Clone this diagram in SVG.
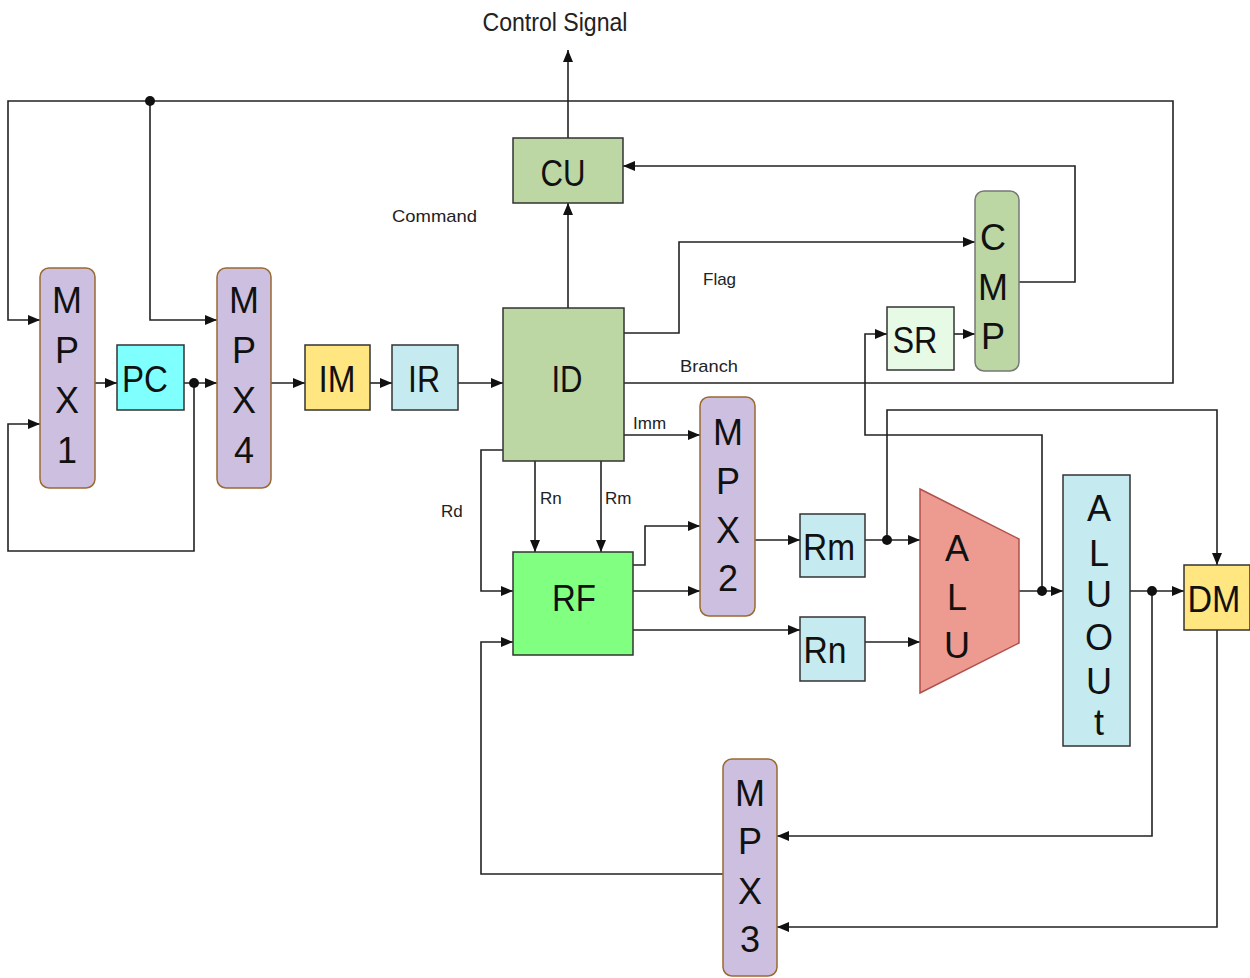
<svg xmlns="http://www.w3.org/2000/svg" width="1250" height="978" viewBox="0 0 1250 978">
<defs>
<marker id="arr" markerUnits="userSpaceOnUse" markerWidth="12" markerHeight="10" refX="12" refY="5" orient="auto">
<path d="M0,0 L12,5 L0,10 z" fill="#111"/>
</marker>
<style>
.w{fill:none;stroke:#222;stroke-width:1.6}
.a{marker-end:url(#arr)}
.box{stroke:#333;stroke-width:1.5}
.mpx{fill:#CDBFE0;stroke:#9A6A30;stroke-width:1.5}
.t{font-family:"Liberation Sans",Arial,sans-serif;font-size:37px;fill:#111;text-anchor:middle;dominant-baseline:central}
.v{font-family:"Liberation Sans",Arial,sans-serif;font-size:36px;fill:#111;text-anchor:middle;dominant-baseline:central}
.l{font-family:"Liberation Sans",Arial,sans-serif;font-size:17px;fill:#222}
.dot{fill:#111}
</style>
</defs>
<rect width="1250" height="978" fill="#fff"/>
<g id="connectors">
<path class="w a" d="M624,383 H1173 V101 H8 V320 H40"/>
<path class="w a" d="M150,101 V320 H217"/>
<path class="w a" d="M95,383 H117"/>
<path class="w a" d="M184,383 H217"/>
<path class="w a" d="M194,383 V551 H8 V424 H40"/>
<path class="w a" d="M271,383 H305"/>
<path class="w a" d="M370,383 H392"/>
<path class="w a" d="M458,383 H503"/>
<path class="w a" d="M568,308 V203"/>
<path class="w a" d="M568,138 V50"/>
<path class="w a" d="M1019,282 H1075 V166 H623"/>
<path class="w a" d="M624,333 H679 V242 H975"/>
<path class="w a" d="M954,334 H975"/>
<path class="w a" d="M1042,591 V435 H865 V334 H887"/>
<path class="w a" d="M887,540 V410 H1217 V565"/>
<path class="w a" d="M865,540 H920"/>
<path class="w a" d="M865,642 H920"/>
<path class="w a" d="M1019,591 H1063"/>
<path class="w a" d="M1130,591 H1184"/>
<path class="w a" d="M1152,591 V836 H777"/>
<path class="w a" d="M1217,630 V927 H777"/>
<path class="w a" d="M723,874 H481 V642 H513"/>
<path class="w a" d="M503,450 H481 V591 H513"/>
<path class="w a" d="M535,461 V552"/>
<path class="w a" d="M601,461 V552"/>
<path class="w a" d="M624,435 H700"/>
<path class="w a" d="M633,565 H645 V526 H700"/>
<path class="w a" d="M633,591 H700"/>
<path class="w a" d="M633,630 H800"/>
<path class="w a" d="M755,540 H800"/>
<circle class="dot" cx="150" cy="101" r="5"/>
<circle class="dot" cx="194" cy="383" r="5"/>
<circle class="dot" cx="887" cy="540" r="5"/>
<circle class="dot" cx="1042" cy="591" r="5"/>
<circle class="dot" cx="1152" cy="591" r="5"/>
</g>
<g id="labels">
<text x="555" y="31" font-family="Liberation Sans,Arial,sans-serif" font-size="25" fill="#222" text-anchor="middle" textLength="145" lengthAdjust="spacingAndGlyphs">Control Signal</text>
<text class="l" x="392" y="222" textLength="85" lengthAdjust="spacingAndGlyphs">Command</text>
<text class="l" x="703" y="285">Flag</text>
<text class="l" x="680" y="372" textLength="58" lengthAdjust="spacingAndGlyphs">Branch</text>
<text class="l" x="633" y="429">Imm</text>
<text class="l" x="441" y="517">Rd</text>
<text class="l" x="540" y="504">Rn</text>
<text class="l" x="605" y="504">Rm</text>
</g>
<g id="MPX1"><rect class="mpx" x="40" y="268" width="55" height="220" rx="9"/>
<text class="v" x="67" y="300">M</text><text class="v" x="67" y="350">P</text><text class="v" x="67" y="400">X</text><text class="v" x="67" y="450">1</text></g>
<g id="PC"><rect class="box" x="117" y="345" width="67" height="65" fill="#80FFFF"/><text class="t" x="145" y="379" textLength="46" lengthAdjust="spacingAndGlyphs">PC</text></g>
<g id="MPX4"><rect class="mpx" x="217" y="268" width="54" height="220" rx="9"/>
<text class="v" x="244" y="300">M</text><text class="v" x="244" y="350">P</text><text class="v" x="244" y="400">X</text><text class="v" x="244" y="450">4</text></g>
<g id="IM"><rect class="box" x="305" y="345" width="65" height="65" fill="#FFE680"/><text class="t" x="337" y="379" textLength="37" lengthAdjust="spacingAndGlyphs">IM</text></g>
<g id="IR"><rect class="box" x="392" y="345" width="66" height="65" fill="#C5EBF0"/><text class="t" x="424" y="379" textLength="32" lengthAdjust="spacingAndGlyphs">IR</text></g>
<g id="ID"><rect class="box" x="503" y="308" width="121" height="153" fill="#BCD6A4"/><text class="t" x="567" y="379" textLength="31" lengthAdjust="spacingAndGlyphs">ID</text></g>
<g id="CU"><rect class="box" x="513" y="138" width="110" height="65" fill="#BCD6A4"/><text class="t" x="563" y="173" textLength="45" lengthAdjust="spacingAndGlyphs">CU</text></g>
<g id="CMP"><rect x="975" y="191" width="44" height="180" rx="9" fill="#BCD6A4" stroke="#777" stroke-width="1.5"/>
<text class="v" x="993" y="237">C</text><text class="v" x="993" y="287">M</text><text class="v" x="993" y="336">P</text></g>
<g id="SR"><rect class="box" x="887" y="307" width="67" height="63" fill="#E6FAE6"/><text class="t" x="915" y="340" textLength="45" lengthAdjust="spacingAndGlyphs">SR</text></g>
<g id="MPX2"><rect class="mpx" x="700" y="397" width="55" height="219" rx="9"/>
<text class="v" x="728" y="432">M</text><text class="v" x="728" y="481">P</text><text class="v" x="728" y="530">X</text><text class="v" x="728" y="578">2</text></g>
<g id="RF"><rect class="box" x="513" y="552" width="120" height="103" fill="#80FF80"/><text class="t" x="574" y="598" textLength="44" lengthAdjust="spacingAndGlyphs">RF</text></g>
<g id="Rm"><rect class="box" x="800" y="514" width="65" height="63" fill="#C5EBF0"/><text class="t" x="829" y="547" textLength="52" lengthAdjust="spacingAndGlyphs">Rm</text></g>
<g id="Rn"><rect class="box" x="800" y="617" width="65" height="64" fill="#C5EBF0"/><text class="t" x="825" y="650" textLength="43" lengthAdjust="spacingAndGlyphs">Rn</text></g>
<g id="ALU"><polygon points="920,489 1019,539 1019,643 920,693" fill="#ED9A90" stroke="#B0504A" stroke-width="1.5"/>
<text class="v" x="957" y="548">A</text><text class="v" x="957" y="597">L</text><text class="v" x="957" y="645">U</text></g>
<g id="ALUOut"><rect class="box" x="1063" y="475" width="67" height="271" fill="#C5EBF0"/>
<text class="v" x="1099" y="508" font-size="32">A</text><text class="v" x="1099" y="553" font-size="32">L</text><text class="v" x="1099" y="594" font-size="32">U</text><text class="v" x="1099" y="637" font-size="32">O</text><text class="v" x="1099" y="681" font-size="32">U</text><text class="v" x="1099" y="722" font-size="32">t</text></g>
<g id="DM"><rect class="box" x="1184" y="565" width="66" height="65" fill="#FFE680"/><text class="t" x="1214" y="599" textLength="53" lengthAdjust="spacingAndGlyphs">DM</text></g>
<g id="MPX3"><rect class="mpx" x="723" y="759" width="54" height="217" rx="9"/>
<text class="v" x="750" y="793">M</text><text class="v" x="750" y="841">P</text><text class="v" x="750" y="891">X</text><text class="v" x="750" y="939">3</text></g>
</svg>
